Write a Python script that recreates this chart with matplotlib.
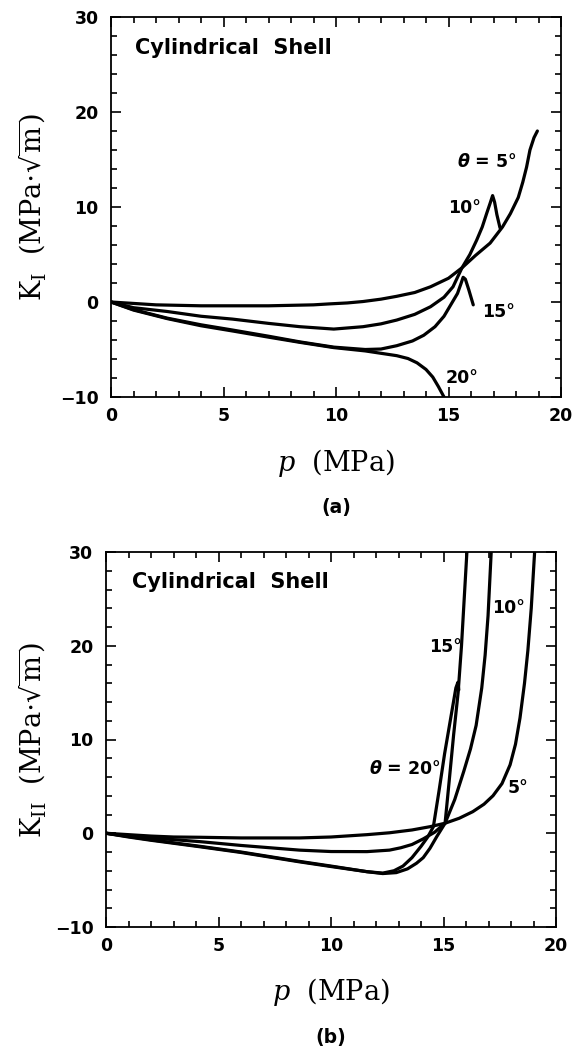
import matplotlib
matplotlib.use("Agg")
import matplotlib.pyplot as plt
from matplotlib.ticker import MultipleLocator

# ---------------- data: panel (a) K_I ----------------
p_a_5 = [0, 1, 2, 3, 4, 5, 6, 7, 8, 9, 9.7, 10.5, 11.2, 12.0, 12.7, 13.5, 14.2, 15.0,
         15.6, 16.2, 16.85, 17.4, 17.75, 18.1, 18.3, 18.47, 18.62, 18.8, 18.95]
k_a_5 = [0, -0.15, -0.3, -0.35, -0.4, -0.4, -0.4, -0.4, -0.35, -0.3, -0.2, -0.1, 0.05, 0.3,
         0.6, 1.0, 1.6, 2.5, 3.6, 4.9, 6.2, 7.9, 9.3, 11.0, 12.6, 14.2, 16.0, 17.3, 18.0]

p_a_10 = [0, 1, 2.5, 4, 5.4, 7, 8.4, 9.9, 11.2, 12.0, 12.7, 13.5, 14.2, 14.8, 15.2, 15.6,
          15.95, 16.25, 16.5, 16.7, 16.85, 16.96, 17.05, 17.15, 17.29]
k_a_10 = [0, -0.6, -1.0, -1.5, -1.8, -2.25, -2.6, -2.85, -2.6, -2.3, -1.9, -1.3, -0.5, 0.5,
          1.6, 3.6, 5.0, 6.5, 7.9, 9.35, 10.4, 11.2, 10.5, 9.2, 7.8]

p_a_15 = [0, 1, 2.5, 4, 5.4, 7, 8.4, 9.9, 11.3, 12.0, 12.7, 13.4, 13.9, 14.4, 14.8, 15.1,
          15.4, 15.55, 15.65, 15.75, 15.9, 16.1]
k_a_15 = [0, -0.8, -1.7, -2.4, -2.95, -3.6, -4.2, -4.75, -5.0, -4.95, -4.6, -4.1, -3.5,
          -2.6, -1.5, -0.3, 0.9, 1.9, 2.6, 2.4, 1.3, -0.3]

p_a_20 = [0, 1, 2.5, 4, 5.4, 7, 8.4, 9.9, 11.3, 12.0, 12.7, 13.2, 13.6, 14.0, 14.3, 14.55,
          14.8]
k_a_20 = [0, -0.85, -1.75, -2.5, -3.05, -3.7, -4.25, -4.8, -5.15, -5.4, -5.65, -5.95, -6.4,
          -7.1, -7.9, -8.9, -10]

# ---------------- data: panel (b) K_II ----------------
p_b_5 = [0, 1, 2, 3, 4.2, 6, 8.6, 10, 11.6, 12.6, 13.6, 14.4, 15.07, 15.7, 16.3, 16.8,
         17.2, 17.6, 17.96, 18.2, 18.4, 18.6, 18.75, 18.9, 19.05]
k_b_5 = [0, -0.15, -0.3, -0.4, -0.43, -0.5, -0.5, -0.4, -0.15, 0.05, 0.35, 0.7, 1.07, 1.6,
         2.3, 3.1, 4.0, 5.3, 7.3, 9.5, 12.3, 16.0, 19.5, 24, 30]

p_b_10 = [0, 1, 2, 4.2, 6, 8.6, 10, 11.6, 12.6, 13.1, 13.6, 14.1, 14.6, 15.07, 15.5, 15.9,
          16.2, 16.45, 16.7, 16.85, 16.98, 17.12]
k_b_10 = [0, -0.3, -0.5, -0.9, -1.3, -1.8, -1.95, -1.96, -1.8, -1.55, -1.2, -0.6, 0.1,
          1.07, 3.6, 6.6, 9.0, 11.5, 15.5, 19.0, 23.2, 30]

p_b_15 = [0, 1, 2, 4.2, 6, 8.6, 10, 11.6, 12.3, 12.9, 13.4, 13.8, 14.1, 14.4, 14.7, 15.07,
          15.25, 15.45, 15.65, 15.8, 15.92, 16.04]
k_b_15 = [0, -0.35, -0.7, -1.4, -2.0, -3.0, -3.5, -4.1, -4.3, -4.2, -3.8, -3.2, -2.6, -1.6,
          -0.36, 1.07, 5.5, 10.5, 15.0, 20.0, 25.0, 30]

p_b_20 = [0, 1, 2, 4.2, 6, 8.6, 10, 11.6, 12.3, 12.8, 13.2, 13.6, 14.0, 14.3, 14.55, 14.8,
          15.05, 15.3, 15.55, 15.64, 15.68]
k_b_20 = [0, -0.4, -0.75, -1.45, -2.05, -3.05, -3.55, -4.1, -4.25, -4.0, -3.5, -2.6, -1.4,
          -0.4, 0.7, 4.5, 8.5, 12.0, 15.5, 16.1, 15.3]

x_ticks = [0, 5, 10, 15, 20]
y_ticks = [-10, 0, 10, 20, 30]

W, H = 573, 1055
fig = plt.figure(figsize=(W / 100, H / 100), dpi=100)

TICK_FS = 12.5
LBL_FS = 19.5
LW = 2.3


def px_axes(left, top, right, bottom):
    return [left / W, 1 - bottom / H, (right - left) / W, (bottom - top) / H]


def style(ax):
    ax.set_xlim(0, 20)
    ax.set_ylim(-10, 30)
    ax.set_xticks(x_ticks)
    ax.set_yticks(y_ticks)
    ax.set_xticklabels([str(t) for t in x_ticks])
    ax.set_yticklabels([("\u2212" + str(-t)) if t < 0 else str(t) for t in y_ticks])
    ax.xaxis.set_minor_locator(MultipleLocator(1))
    ax.yaxis.set_minor_locator(MultipleLocator(2))
    ax.tick_params(which='both', direction='in', top=True, right=True, width=1.2)
    ax.tick_params(which='major', length=7)
    ax.tick_params(which='minor', length=4)
    ax.tick_params(axis='x', pad=7)
    ax.tick_params(axis='y', pad=9)
    for lab in ax.get_xticklabels() + ax.get_yticklabels():
        lab.set_fontweight('bold')
        lab.set_fontsize(TICK_FS)
        lab.set_family('DejaVu Sans')
    for s in ax.spines.values():
        s.set_linewidth(1.3)


def draw(ax, series):
    for p, k in series:
        ax.plot(p, k, color='black', lw=LW, solid_joinstyle='round',
                solid_capstyle='round')


# ---------- panel (a) ----------
axa = fig.add_axes(px_axes(111, 17, 561, 397))
draw(axa, [(p_a_5, k_a_5), (p_a_10, k_a_10), (p_a_15, k_a_15), (p_a_20, k_a_20)])
style(axa)
axa.text(1.05, 26.7, 'Cylindrical  Shell', fontsize=15, fontweight='bold', va='center', ha='left')
axa.text(16.7, 14.7, r'$\boldsymbol{\theta}$ = 5°', fontsize=TICK_FS, fontweight='bold', ha='center', va='center')
axa.text(15.7, 9.9, '10°', fontsize=TICK_FS, fontweight='bold', ha='center', va='center')
axa.text(17.2, -1.05, '15°', fontsize=TICK_FS, fontweight='bold', ha='center', va='center')
axa.text(15.6, -8.0, '20°', fontsize=TICK_FS, fontweight='bold', ha='center', va='center')

# ---------- panel (b) ----------
axb = fig.add_axes(px_axes(106, 552, 556, 927))
draw(axb, [(p_b_5, k_b_5), (p_b_10, k_b_10), (p_b_15, k_b_15), (p_b_20, k_b_20)])
style(axb)
axb.text(1.15, 26.8, 'Cylindrical  Shell', fontsize=15, fontweight='bold', va='center', ha='left')
axb.text(17.9, 24.0, '10°', fontsize=TICK_FS, fontweight='bold', ha='center', va='center')
axb.text(15.1, 19.9, '15°', fontsize=TICK_FS, fontweight='bold', ha='center', va='center')
axb.text(13.3, 6.9, r'$\boldsymbol{\theta}$ = 20°', fontsize=TICK_FS, fontweight='bold', ha='center', va='center')
axb.text(18.3, 4.8, '5°', fontsize=TICK_FS, fontweight='bold', ha='center', va='center')

# ---------- axis labels & panel tags ----------
def ftext(xpx, ypx, s, **kw):
    fig.text(xpx / W, 1 - ypx / H, s, **kw)

serif = dict(family='DejaVu Serif', math_fontfamily='dejavuserif', fontsize=LBL_FS,
             ha='center', va='center')
ftext(336, 463, r'$p$  (MPa)', **serif)
ftext(331, 992, r'$p$  (MPa)', **serif)
ftext(32, 207, r'K$_\mathrm{I}$  (MPa$\cdot\sqrt{\mathrm{m}}$)', rotation=90, **serif)
ftext(32, 740, r'K$_\mathrm{II}$  (MPa$\cdot\sqrt{\mathrm{m}}$)', rotation=90, **serif)

ftext(336, 508, '(a)', fontsize=13.5, fontweight='bold', ha='center', va='center')
ftext(331, 1038, '(b)', fontsize=13.5, fontweight='bold', ha='center', va='center')

fig.savefig('out.png', dpi=100)
